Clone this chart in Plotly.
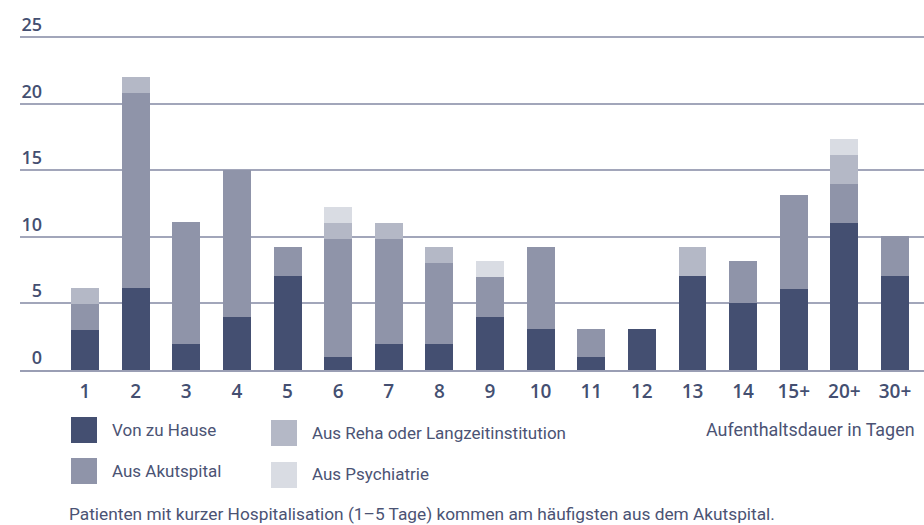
import plotly.graph_objects as go

categories = ["1", "2", "3", "4", "5", "6", "7", "8", "9", "10", "11", "12", "13", "14", "15+", "20+", "30+"]
von_zu_hause = [3.0, 6.15, 1.95, 4.0, 7.05, 1.0, 1.95, 1.95, 4.0, 3.1, 1.0, 3.1, 7.05, 5.05, 6.1, 11.05, 7.05]
aus_akutspital = [1.95, 14.7, 9.15, 11.0, 2.2, 8.85, 7.9, 6.1, 3.0, 6.15, 2.1, 0, 0, 3.15, 7.05, 2.9, 3.0]
aus_reha = [1.2, 1.2, 0, 0, 0, 1.2, 1.2, 1.2, 0, 0, 0, 0, 2.2, 0, 0, 2.2, 0]
aus_psychiatrie = [0, 0, 0, 0, 0, 1.2, 0, 0, 1.2, 0, 0, 0, 0, 0, 0, 1.2, 0]
y_ticks = [0, 5, 10, 15, 20, 25]

series = [
    ("Von zu Hause", von_zu_hause, "#444f71"),
    ("Aus Akutspital", aus_akutspital, "#8f94a9"),
    ("Aus Reha oder Langzeitinstitution", aus_reha, "#b4b8c6"),
    ("Aus Psychiatrie", aus_psychiatrie, "#d9dce3"),
]

W, H = 924, 525
ML, MR, MT, MB = 20, 0, 34, 155
PW, PH = W - ML - MR, H - MT - MB


def px(x):
    return (x - ML) / PW


def py(y):
    return (H - MB - y) / PH


fig = go.Figure()
for name, vals, color in series:
    fig.add_trace(go.Bar(x=categories, y=vals, name=name, marker=dict(color=color, line=dict(width=0)),
                         showlegend=False))

TXT = "#4b5374"
DARK = "#444f71"
LEGFONT = dict(family="Roboto, sans-serif", size=17, color=TXT)

legend_items = [
    (series[0], 71, 417, 110, 430),
    (series[1], 71, 458, 110, 471),
    (series[2], 271, 420, 310, 433),
    (series[3], 271, 462, 310, 474),
]
shapes = []
annotations = []
for (name, _, color), sx, sy, tx, ty in legend_items:
    shapes.append(dict(type="rect", xref="paper", yref="paper", x0=px(sx), x1=px(sx + 26),
                       y0=py(sy + 26), y1=py(sy), fillcolor=color, line=dict(width=0)))
    annotations.append(dict(text=name, xref="paper", yref="paper", x=px(tx), y=py(ty), xanchor="left",
                            yanchor="middle", showarrow=False, font=LEGFONT))

annotations.append(dict(text="Aufenthaltsdauer in Tagen", xref="paper", yref="paper", x=px(917), y=py(429),
                        xanchor="right", yanchor="middle", showarrow=False,
                        font=dict(LEGFONT, size=17.9)))
annotations.append(dict(text="Patienten mit kurzer Hospitalisation (1–5 Tage) kommen am häufigsten aus dem Akutspital.",
                        xref="paper", yref="paper", x=px(67), y=py(514), xanchor="left", yanchor="middle",
                        showarrow=False, font=dict(LEGFONT, size=17.3)))

fig.update_layout(
    width=W, height=H,
    margin=dict(l=ML, r=MR, t=MT, b=MB),
    paper_bgcolor="white", plot_bgcolor="white",
    barmode="stack", bargap=0.447,
    shapes=shapes, annotations=annotations,
    xaxis=dict(type="category", range=[-1.284, 16.573], showgrid=False, showline=True,
               linecolor="#9a9eb4", linewidth=1.5, ticks="", ticklabelstandoff=3,
               tickfont=dict(family="Open Sans", size=19, color=DARK, weight=600)),
    yaxis=dict(range=[0, 25.25], tickvals=y_ticks, showgrid=True, gridcolor="#a2a6ba", gridwidth=1.5,
               zeroline=False, showline=False, ticks="", anchor="free", position=px(42),
               ticklabelposition="outside top",
               tickfont=dict(family="Open Sans", size=18, color=DARK, weight=600)),
    showlegend=False,
)

fig.write_html("out.html", config={"displayModeBar": False})

with open("out.html", "r", encoding="utf-8") as f:
    html = f.read()
html = html.replace("<head>", "<head><style>html,body{margin:0;padding:0;overflow:hidden;}</style>", 1)
with open("out.html", "w", encoding="utf-8") as f:
    f.write(html)
